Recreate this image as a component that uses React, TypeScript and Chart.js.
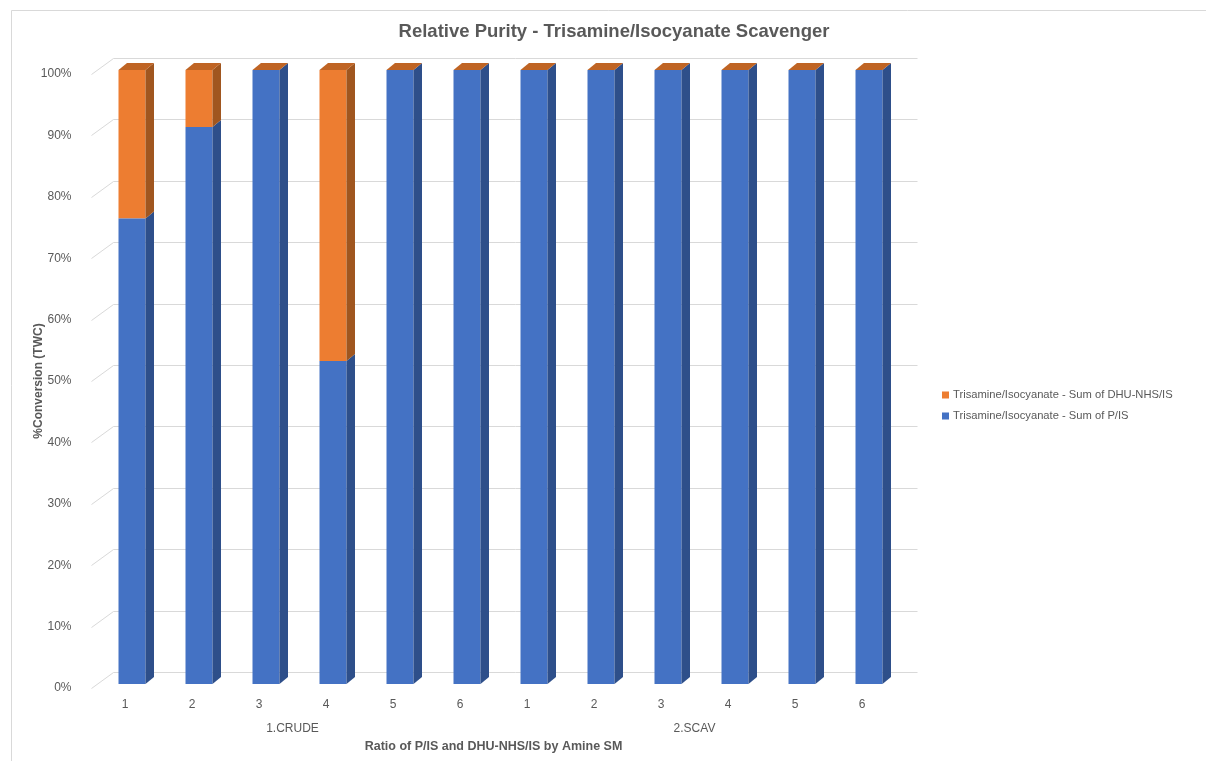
import React, { useEffect, useRef } from "react";
import { Chart, registerables } from "chart.js";

Chart.register(...registerables);

const categories = ["1", "2", "3", "4", "5", "6", "1", "2", "3", "4", "5", "6"];
const groups = ["1.CRUDE", "2.SCAV"];
const sumPIS = [75.8, 90.7, 100, 52.6, 100, 100, 100, 100, 100, 100, 100, 100];
const sumDHU = [24.2, 9.3, 0, 47.4, 0, 0, 0, 0, 0, 0, 0, 0];
const seriesNames = [
  "Trisamine/Isocyanate - Sum of P/IS",
  "Trisamine/Isocyanate - Sum of DHU-NHS/IS",
];
const chartTitle = "Relative Purity - Trisamine/Isocyanate Scavenger";
const xTitle = "Ratio of P/IS and DHU-NHS/IS by Amine SM";
const yTitle = "%Conversion (TWC)";

const W = 1206;
const H = 761;
const FONT = "'Liberation Sans', Arial, sans-serif";
const TXT = "#595959";
const GRID = "#d9d9d9";
const FRONT = ["#4472C4", "#ED7D31"];
const SIDE = ["#2E4F8A", "#A0561F"];
const TOP = ["#3A63AE", "#BF6424"];
const WALL_DX = 22;
const WALL_DY = -16;
const SHIFT_X = 7;
const SHIFT_Y = -4;
const BAR_DX = 8.5;
const BAR_DY = -7;

const depthPlugin = {
  id: "depth3d",
  beforeDraw(chart: any) {
    const ctx = chart.ctx;
    ctx.save();
    ctx.fillStyle = "#ffffff";
    ctx.fillRect(0, 0, W, H);
    ctx.strokeStyle = GRID;
    ctx.lineWidth = 1;
    ctx.beginPath();
    ctx.moveTo(11.5, H);
    ctx.lineTo(11.5, 10.5);
    ctx.lineTo(W, 10.5);
    ctx.stroke();
    ctx.restore();
  },
  beforeDatasetsDraw(chart: any) {
    const { ctx, chartArea } = chart;
    const ys = chart.scales.y;
    ctx.save();
    ctx.strokeStyle = GRID;
    ctx.lineWidth = 1;
    ys.ticks.forEach((t: any) => {
      const py = Math.round(ys.getPixelForValue(t.value)) + 0.5;
      ctx.beginPath();
      ctx.moveTo(chartArea.left, py);
      ctx.lineTo(chartArea.left + WALL_DX, py + WALL_DY);
      ctx.lineTo(chartArea.right + WALL_DX, py + WALL_DY);
      ctx.stroke();
    });
    ctx.restore();
    ctx.save();
    ctx.translate(SHIFT_X, SHIFT_Y);
  },
  afterDatasetsDraw(chart: any) {
    const ctx = chart.ctx;
    const n = chart.data.datasets.length;
    for (let d = 0; d < n; d++) {
      const meta = chart.getDatasetMeta(d);
      meta.data.forEach((el: any) => {
        const { x, y, base, width } = el.getProps(["x", "y", "base", "width"], true);
        const l = x - width / 2;
        const r = x + width / 2;
        const top = Math.min(y, base);
        const bot = Math.max(y, base);
        if (bot - top > 0.01) {
          ctx.fillStyle = SIDE[d];
          ctx.beginPath();
          ctx.moveTo(r, top);
          ctx.lineTo(r + BAR_DX, top + BAR_DY);
          ctx.lineTo(r + BAR_DX, bot + BAR_DY);
          ctx.lineTo(r, bot);
          ctx.closePath();
          ctx.fill();
        }
        if (d === n - 1) {
          ctx.fillStyle = TOP[d];
          ctx.beginPath();
          ctx.moveTo(l, top);
          ctx.lineTo(l + BAR_DX, top + BAR_DY);
          ctx.lineTo(r + BAR_DX, top + BAR_DY);
          ctx.lineTo(r, top);
          ctx.closePath();
          ctx.fill();
        }
      });
    }
    ctx.restore();
  },
  afterDraw(chart: any) {
    const ctx = chart.ctx;
    ctx.save();
    ctx.font = `11.2px ${FONT}`;
    ctx.textBaseline = "middle";
    ctx.textAlign = "left";
    const items = [
      { name: seriesNames[1], color: FRONT[1], y: 395 },
      { name: seriesNames[0], color: FRONT[0], y: 416 },
    ];
    items.forEach((it) => {
      ctx.fillStyle = it.color;
      ctx.fillRect(942, it.y - 3.5, 7, 7);
      ctx.fillStyle = TXT;
      ctx.fillText(it.name, 953, it.y);
    });
    ctx.restore();
  },
};

export default function App() {
  const ref = useRef<HTMLCanvasElement | null>(null);
  useEffect(() => {
    if (!ref.current) return;
    Chart.defaults.font.family = FONT;
    const chart = new Chart(ref.current, {
      type: "bar",
      data: {
        labels: categories,
        datasets: [
          {
            label: seriesNames[0],
            data: sumPIS,
            backgroundColor: FRONT[0],
            borderWidth: 0,
            barPercentage: 0.403,
            categoryPercentage: 1,
            clip: false as any,
          },
          {
            label: seriesNames[1],
            data: sumDHU,
            backgroundColor: FRONT[1],
            borderWidth: 0,
            barPercentage: 0.403,
            categoryPercentage: 1,
            clip: false as any,
          },
        ],
      },
      options: {
        responsive: false,
        animation: false,
        events: [],
        layout: { padding: { left: 22, right: 0, top: 0, bottom: 0 } },
        plugins: {
          legend: { display: false },
          tooltip: { enabled: false },
          title: {
            display: true,
            text: chartTitle,
            color: TXT,
            font: { size: 18.5, weight: "bold", family: FONT },
            padding: { top: 21, bottom: 30.8 },
          },
        },
        scales: {
          x: {
            type: "category",
            stacked: true,
            offset: true,
            weight: 0,
            grid: { display: false },
            border: { display: false },
            ticks: {
              color: TXT,
              font: { size: 12, family: FONT },
              padding: 1,
              maxRotation: 0,
              autoSkip: false,
            },
            afterFit: (s: any) => {
              s.height = 24;
            },
          },
          x2: {
            type: "category",
            labels: groups,
            position: "bottom",
            offset: true,
            weight: 1,
            grid: { display: false },
            border: { display: false },
            ticks: {
              color: TXT,
              font: { size: 12, family: FONT },
              padding: 1,
              maxRotation: 0,
              autoSkip: false,
            },
            title: {
              display: true,
              text: xTitle,
              color: TXT,
              font: { size: 12.5, weight: "bold", family: FONT },
              padding: { top: 0, bottom: 6.5 },
            },
            afterFit: (s: any) => {
              s.height = 49;
            },
          },
          y: {
            stacked: true,
            min: 0,
            max: 100,
            grid: { display: false },
            border: { display: false },
            ticks: {
              stepSize: 10,
              color: TXT,
              font: { size: 12, family: FONT },
              padding: 12,
              callback: (v: any) => `${v}%`,
            },
            title: {
              display: true,
              text: yTitle,
              color: TXT,
              font: { size: 12, weight: "bold", family: FONT },
              padding: { top: 9, bottom: 0 },
            },
            afterFit: (s: any) => {
              s.width = 69.5;
            },
          },
          yR: {
            position: "right",
            display: true,
            grid: { display: false },
            border: { display: false },
            ticks: { display: false },
            afterFit: (s: any) => {
              s.width = 310.5;
            },
          },
        },
      } as any,
      plugins: [depthPlugin],
    });
    return () => chart.destroy();
  }, []);
  return (
    <div style={{ position: "absolute", left: 0, top: 0, width: W, height: H, background: "#fff" }}>
      <canvas ref={ref} width={W} height={H} style={{ display: "block", width: W, height: H }} />
    </div>
  );
}
